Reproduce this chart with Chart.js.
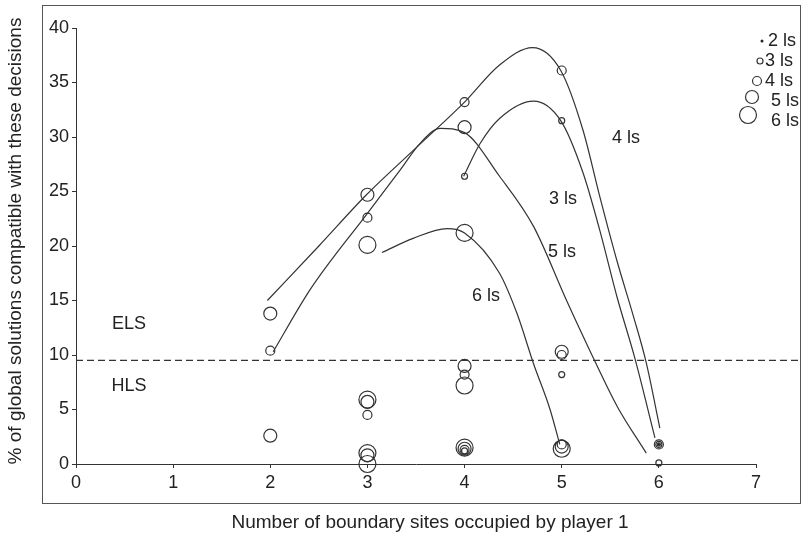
<!DOCTYPE html>
<html>
<head>
<meta charset="utf-8">
<script src="https://cdn.jsdelivr.net/npm/chart.js@4.4.1/dist/chart.umd.min.js"></script>
<style>
  html, body { margin: 0; padding: 0; background: #fff; }
  #wrap { width: 802px; height: 540px; }
</style>
</head>
<body>
<div id="wrap"><canvas id="chart" width="802" height="540"></canvas></div>
<script>
// tick labels
const xTicks = [0, 1, 2, 3, 4, 5, 6, 7];
const yTicks = [0, 5, 10, 15, 20, 25, 30, 35, 40];

// observed points, one list per number of ls  [x, %]
const ls2Points = [[6, 1.8]];
const ls3Points = [[4, 26.4], [5, 31.5], [5, 8.2], [4, 1.2], [6, 1.8], [6, 0.1]];
const ls4Points = [[2, 10.4], [3, 22.6], [3, 4.5], [4, 33.2], [4, 8.2], [4, 1.3], [5, 36.1], [5, 10.0], [5, 1.8], [6, 1.8]];
const ls5Points = [[2, 13.8], [2, 2.6], [3, 24.7], [3, 5.7], [3, 0.8], [4, 30.9], [4, 9.0], [4, 1.4], [5, 10.3], [5, 1.6]];
const ls6Points = [[3, 20.1], [3, 5.9], [3, 1.0], [3, 0.0], [4, 21.2], [4, 7.2], [4, 1.5], [5, 1.4]];

// fitted curves
const curve4ls = [[1.97, 15.0], [2.5, 20.0], [2.99, 24.7], [3.5, 29.0], [4.0, 33.2], [4.36, 36.6], [4.70, 38.2], [4.99, 36.1], [5.22, 30.6], [5.39, 24.6], [5.57, 18.6], [5.74, 13.5], [5.87, 9.3], [6.01, 3.3]];
const curve3ls = [[3.99, 26.4], [4.16, 29.4], [4.36, 31.7], [4.71, 33.3], [4.99, 31.5], [5.22, 26.7], [5.39, 21.5], [5.57, 15.3], [5.75, 9.8], [5.96, 2.4]];
const curve5ls = [[2.03, 10.3], [2.41, 16.0], [3.0, 23.0], [3.34, 27.0], [3.54, 29.4], [3.75, 30.8], [4.0, 30.4], [4.36, 26.4], [4.71, 21.8], [5.05, 15.0], [5.29, 10.4], [5.57, 5.3], [5.87, 1.0]];
const curve6ls = [[3.15, 19.4], [3.47, 20.7], [3.82, 21.6], [4.0, 21.2], [4.36, 17.5], [4.54, 13.8], [4.71, 9.2], [4.88, 5.0], [4.98, 1.8]];

// ELS / HLS boundary
const boundaryLine = [[0, 9.5], [7.45, 9.5]];

const FONT = "'Liberation Sans', Arial, Helvetica, sans-serif";
const INK = '#333';

const toXY = arr => arr.map(([x, y]) => ({ x, y }));

function pointSet(arr, r, fill) {
  return {
    data: toXY(arr),
    showLine: false,
    pointRadius: r,
    pointHoverRadius: r,
    pointBorderColor: INK,
    pointBackgroundColor: fill || 'rgba(0,0,0,0)',
    pointBorderWidth: 1.2,
    clip: false
  };
}

function curveSet(arr, dash) {
  return {
    data: toXY(arr),
    showLine: true,
    borderColor: INK,
    borderWidth: 1.2,
    borderDash: dash || [],
    pointRadius: 0,
    cubicInterpolationMode: dash ? 'default' : 'monotone',
    tension: 0,
    clip: false
  };
}

// frame, titles, annotations and size key
const extras = {
  id: 'extras',
  beforeDraw(chart) {
    const c = chart.ctx;
    c.save();
    c.strokeStyle = '#555';
    c.lineWidth = 1;
    c.strokeRect(42.5, 5.5, 758, 498);
    c.restore();
  },
  afterDraw(chart) {
    const c = chart.ctx;
    c.save();
    c.fillStyle = '#222';
    c.textBaseline = 'middle';

    c.font = '19px ' + FONT;
    c.textAlign = 'center';
    c.fillText('Number of boundary sites occupied by player 1', 430, 523);
    c.save();
    c.translate(16, 241);
    c.rotate(-Math.PI / 2);
    c.fillText('% of global solutions compatible with these decisions', 0, 0);
    c.restore();

    c.font = '18px ' + FONT;
    c.fillText('ELS', 129, 324);
    c.fillText('HLS', 129, 386);
    c.fillText('4 ls', 626, 138);
    c.fillText('3 ls', 563, 199);
    c.fillText('5 ls', 562, 252);
    c.fillText('6 ls', 486, 296);

    // key
    const key = [
      { r: 1.5, cx: 762, cy: 41, tx: 768, ty: 41, label: '2 ls', filled: true },
      { r: 3, cx: 760, cy: 61, tx: 765, ty: 61, label: '3 ls' },
      { r: 4.5, cx: 757, cy: 81, tx: 765, ty: 81, label: '4 ls' },
      { r: 6.5, cx: 752, cy: 97, tx: 771, ty: 101, label: '5 ls' },
      { r: 8.5, cx: 748, cy: 115, tx: 771, ty: 121, label: '6 ls' }
    ];
    c.textAlign = 'left';
    c.strokeStyle = INK;
    c.lineWidth = 1.2;
    key.forEach(k => {
      c.beginPath();
      c.arc(k.cx, k.cy, k.r, 0, Math.PI * 2);
      if (k.filled) { c.fillStyle = '#222'; c.fill(); } else c.stroke();
      c.fillStyle = '#222';
      c.fillText(k.label, k.tx, k.ty);
    });
    c.restore();
  }
};

const ctx = document.getElementById('chart').getContext('2d');
new Chart(ctx, {
  type: 'scatter',
  data: {
    datasets: [
      pointSet(ls2Points, 1.5, '#222'),
      pointSet(ls3Points, 3),
      pointSet(ls4Points, 4.5),
      pointSet(ls5Points, 6.5),
      pointSet(ls6Points, 8.5),
      curveSet(curve4ls),
      curveSet(curve3ls),
      curveSet(curve5ls),
      curveSet(curve6ls),
      curveSet(boundaryLine, [7, 4])
    ]
  },
  options: {
    responsive: false,
    animation: false,
    events: [],
    layout: { padding: { top: 28, right: 46, left: 0, bottom: 0 } },
    plugins: { legend: { display: false }, tooltip: { enabled: false } },
    scales: {
      x: {
        type: 'linear',
        min: 0,
        max: 7,
        afterBuildTicks: s => { s.ticks = xTicks.map(v => ({ value: v })); },
        afterFit: s => { s.height = 76; },
        grid: { display: true, drawOnChartArea: false, drawTicks: true, tickLength: 4, color: INK },
        border: { display: true, color: INK, width: 1 },
        ticks: { font: { size: 18, family: FONT }, color: '#222', padding: 4 }
      },
      y: {
        type: 'linear',
        min: 0,
        max: 40,
        afterBuildTicks: s => { s.ticks = yTicks.map(v => ({ value: v })); },
        afterFit: s => { s.width = 76; },
        grid: { display: true, drawOnChartArea: false, drawTicks: true, tickLength: 4, color: INK },
        border: { display: true, color: INK, width: 1 },
        ticks: { font: { size: 18, family: FONT }, color: '#222', padding: 3 }
      }
    }
  },
  plugins: [extras]
});
</script>
</body>
</html>
